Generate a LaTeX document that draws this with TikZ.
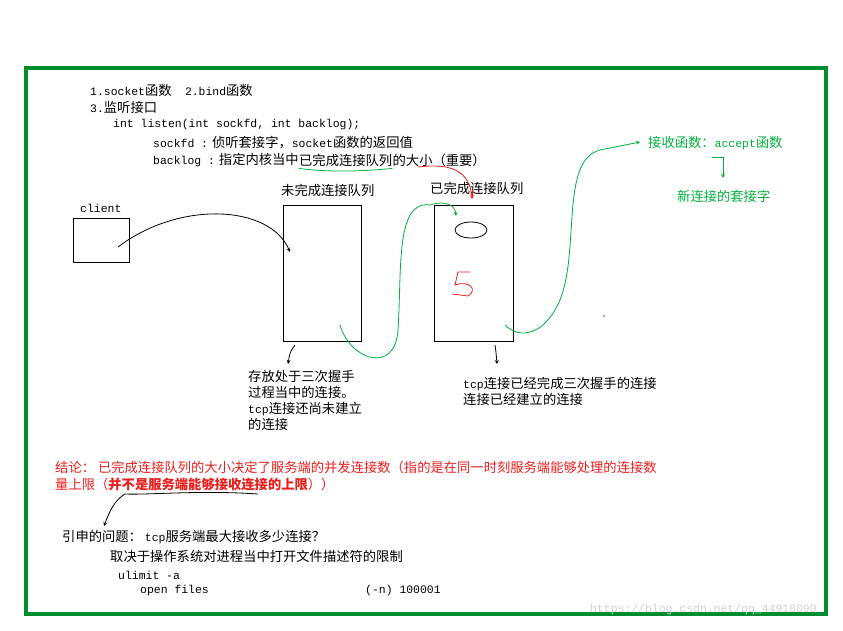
\documentclass[tikz,border=0pt]{standalone}
\usepackage{fontspec}
\setmainfont{Noto Sans CJK SC}
\setmonofont[Scale=0.86]{Liberation Mono}
\usetikzlibrary{positioning}
\definecolor{pgreen}{RGB}{0,176,60}
\definecolor{pred}{RGB}{235,30,30}
\begin{document}
\begin{tikzpicture}[x=1pt, y=-1pt, >=stealth]
\tikzstyle{every node}=[font=\fontsize{13.3}{15}\selectfont, anchor=west, inner sep=0pt]
\tikzstyle{queue}=[draw, thin, anchor=north west, inner sep=0pt]
\tikzstyle{pen}=[thick, ->]
\useasboundingbox (0,0) rectangle (843,631);
\draw[pgreen!80!black, line width=3.5pt] (26,68) rectangle (826,614);
% listen text
\node (l1) at (90,90) {\texttt{1.socket}函数\quad \texttt{2.bind}函数};
\node (l2) at (90,107) {\texttt{3.}监听接口};
\node (l3) at (113,125) {\texttt{int listen(int sockfd, int backlog);}};
\node (l4) at (153,143) {\texttt{sockfd :} 侦听套接字，\texttt{socket}函数的返回值};
\node (l5) at (153,160) {\texttt{backlog :} 指定内核当中};
\node[right=0pt of l5] (l5b) {已完成连接队列};
\node[right=0pt of l5b] (l5c) {的大小（重要）};
\draw[pgreen, thick] ([yshift=-2pt]l5b.south west) .. controls +(30,4) and +(-30,3) .. ([yshift=-2pt]l5b.south east);
% queues
\node (q1t) at (281,190) {未完成连接队列};
\node (q2t) at (430,188) {已完成连接队列};
\node (ct) at (80,208) {\texttt{client}};
\node[queue, minimum width=56pt, minimum height=44pt] (client) at (73,218) {};
\node[queue, minimum width=78pt, minimum height=136pt] (syn) at (283,205) {};
\node[queue, minimum width=79pt, minimum height=136pt] (acc) at (434,205) {};
\draw[pred, thick] (418,167) .. controls (450,163) and (470,170) .. (472,198);
\draw[pred, thick, ->] (472,190) -- (472,199);
\draw[thick] (471,230) ellipse (16 and 8);
\draw[pred, thick] (470,272) -- (458,272) -- (455,285) .. controls (470,280) and (478,290) .. (468,296) -- (452,294);
\fill[pred] (604,316) circle (0.8);
% arrows
\draw[pen] (118,247) .. controls (180,200) and (270,205) .. (290,252);
\draw[pgreen, thick, ->] (340,325) .. controls (350,360) and (395,375) .. (398,330)
  .. controls (402,270) and (395,200) .. (430,205) .. controls (445,200) and (455,205) .. (456,216);
\draw[pgreen, thick, ->] (505,325) .. controls (520,340) and (545,335) .. (560,300)
  .. controls (580,250) and (560,160) .. (600,150) -- (640,142);
\node[text=pgreen] (acc1) at (648,143) {接收函数：\texttt{accept}函数};
\draw[pgreen, thick, ->] (712,157) -- (723,157) -- (723,178);
\node[text=pgreen] (acc2) at (677,196) {新连接的套接字};
\draw[pen] (295,345) .. controls (290,352) .. (288,364);
\draw[pen] (495,345) .. controls (496,352) .. (497,364);
\node[align=left, anchor=north west] (synd) at (248,370) {存放处于三次握手\\[1pt]过程当中的连接。\\[1pt]\texttt{tcp}连接还尚未建立\\[1pt]的连接};
\node[align=left, anchor=north west] (accd) at (463,377) {\texttt{tcp}连接已经完成三次握手的连接\\[1pt]连接已经建立的连接};
% conclusion
\node[text=pred] (c1) at (55,467) {结论：\ 已完成连接队列的大小决定了服务端的并发连接数（指的是在同一时刻服务端能够处理的连接数};
\node[text=pred] (c2) at (55,484) {量上限（\textbf{并不是服务端能够接收连接的上限}））};
\draw[pen] (258,494) .. controls (200,490) and (150,495) .. (125,494) .. controls (115,500) and (110,510) .. (104,526);
\node (e1) at (62,537) {引申的问题：\ \texttt{tcp}服务端最大接收多少连接？};
\node (e2) at (110,556) {取决于操作系统对进程当中打开文件描述符的限制};
\node (e3) at (118,575) {\texttt{ulimit -a}};
\node (e4) at (140,591) {\texttt{open files}};
\node (e5) at (365,591) {\texttt{(-n) 100001}};
\node[text=black!18] (wm) at (590,610) {\texttt{https://blog.csdn.net/qq\_44918090}};
\end{tikzpicture}
\end{document}
